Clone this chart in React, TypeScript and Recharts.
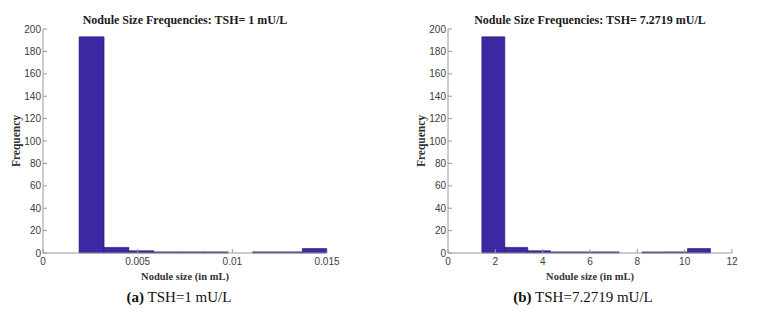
import React from 'react';
import { BarChart, Bar, XAxis, YAxis } from 'recharts';

const frequencies = [193, 5, 2, 1, 1, 1, 0, 1, 1, 4];
const binCentersA = [0.00256, 0.00387, 0.00518, 0.00649, 0.0078, 0.00911, 0.01042, 0.01173, 0.01304, 0.01435];
const binCentersB = [1.91, 2.88, 3.84, 4.81, 5.77, 6.74, 7.70, 8.67, 9.63, 10.60];
const xTicksA = [0, 0.005, 0.01, 0.015];
const xTicksB = [0, 2, 4, 6, 8, 10, 12];
const yTicks = [0, 20, 40, 60, 80, 100, 120, 140, 160, 180, 200];

const BAR = '#3b28a2';
const EDGE = '#241a70';
const AXIS = '#9a9a9a';
const tickStyle = { fontSize: 10, fill: '#3c3c3c', fontFamily: 'Liberation Sans, Arial, sans-serif' };
const serif = '"Liberation Serif", "Times New Roman", serif';

type PanelProps = {
  centers: number[];
  xTicks: number[];
  xDomain: [number, number];
  fmt: (v: number) => string;
  left: number;
  marginLeft: number;
  marginRight: number;
  title: string;
  caption: string;
  tag: string;
  captionCenter: number;
};

function Panel(p: PanelProps) {
  const data = p.centers.map((c, i) => ({ x: c, f: frequencies[i] }));
  const W = 380;
  const plotLeft = p.left + p.marginLeft + 30;
  const plotRight = p.left + W - p.marginRight;
  const cx = (plotLeft + plotRight) / 2;
  return (
    <>
      <div style={{ position: 'absolute', left: p.left, top: 0 }}>
        <BarChart width={W} height={321} data={data} barCategoryGap={0} barGap={0}
          margin={{ top: 29, right: p.marginRight, bottom: 38, left: p.marginLeft }}>
          <XAxis dataKey="x" type="number" domain={p.xDomain} ticks={p.xTicks} allowDataOverflow
            tickFormatter={p.fmt} tick={tickStyle} stroke={AXIS} tickSize={-4} tickMargin={9} height={30} />
          <XAxis xAxisId="top" orientation="top" dataKey="x" type="number" domain={p.xDomain} ticks={p.xTicks}
            tickFormatter={() => ''} stroke={AXIS} tickSize={-4} height={0} />
          <YAxis type="number" domain={[0, 200]} ticks={yTicks} tick={tickStyle} stroke={AXIS}
            tickSize={-4} tickMargin={6} width={30} />
          <YAxis yAxisId="right" orientation="right" type="number" domain={[0, 200]} ticks={yTicks}
            tickFormatter={() => ''} stroke={AXIS} tickSize={-4} width={0} />
          <Bar dataKey="f" fill={BAR} stroke={EDGE} strokeWidth={0.6} isAnimationActive={false} />
        </BarChart>
      </div>
      <div style={{ position: 'absolute', left: cx - 150, width: 300, top: 13, textAlign: 'center',
        fontFamily: serif, fontWeight: 'bold', fontSize: 12, lineHeight: '14px', color: '#1a1a1a' }}>{p.title}</div>
      <div style={{ position: 'absolute', left: cx - 100, width: 200, top: 271, textAlign: 'center',
        fontFamily: serif, fontWeight: 'bold', fontSize: 10.5, lineHeight: '12px', color: '#333' }}>Nodule size (in mL)</div>
      <div style={{ position: 'absolute', left: p.left + p.marginLeft + 3 - 50, width: 100, top: 141 - 7, height: 14,
        textAlign: 'center', fontFamily: serif, fontWeight: 'bold', fontSize: 11.5, lineHeight: '14px', color: '#333',
        transform: 'rotate(-90deg)', transformOrigin: '50% 50%' }}>Frequency</div>
      <div style={{ position: 'absolute', left: p.captionCenter - 150, width: 300, top: 288, textAlign: 'center',
        fontFamily: serif, fontSize: 15, lineHeight: '18px', color: '#111' }}>
        <b>{p.tag}</b> {p.caption}
      </div>
    </>
  );
}

export default function App() {
  return (
    <div style={{ position: 'absolute', left: 0, top: 0, width: 763, height: 321, background: '#fff', overflow: 'hidden' }}>
      <Panel centers={binCentersA} xTicks={xTicksA} xDomain={[0, 0.015]} fmt={(v) => (v === 0 ? '0' : String(v))}
        left={0} marginLeft={13} marginRight={53} captionCenter={179}
        title="Nodule Size Frequencies: TSH= 1 mU/L" caption="TSH=1 mU/L" tag="(a)" />
      <Panel centers={binCentersB} xTicks={xTicksB} xDomain={[0, 12]} fmt={(v) => String(v)}
        left={400} marginLeft={18} marginRight={48} captionCenter={583}
        title="Nodule Size Frequencies: TSH= 7.2719 mU/L" caption="TSH=7.2719 mU/L" tag="(b)" />
    </div>
  );
}
